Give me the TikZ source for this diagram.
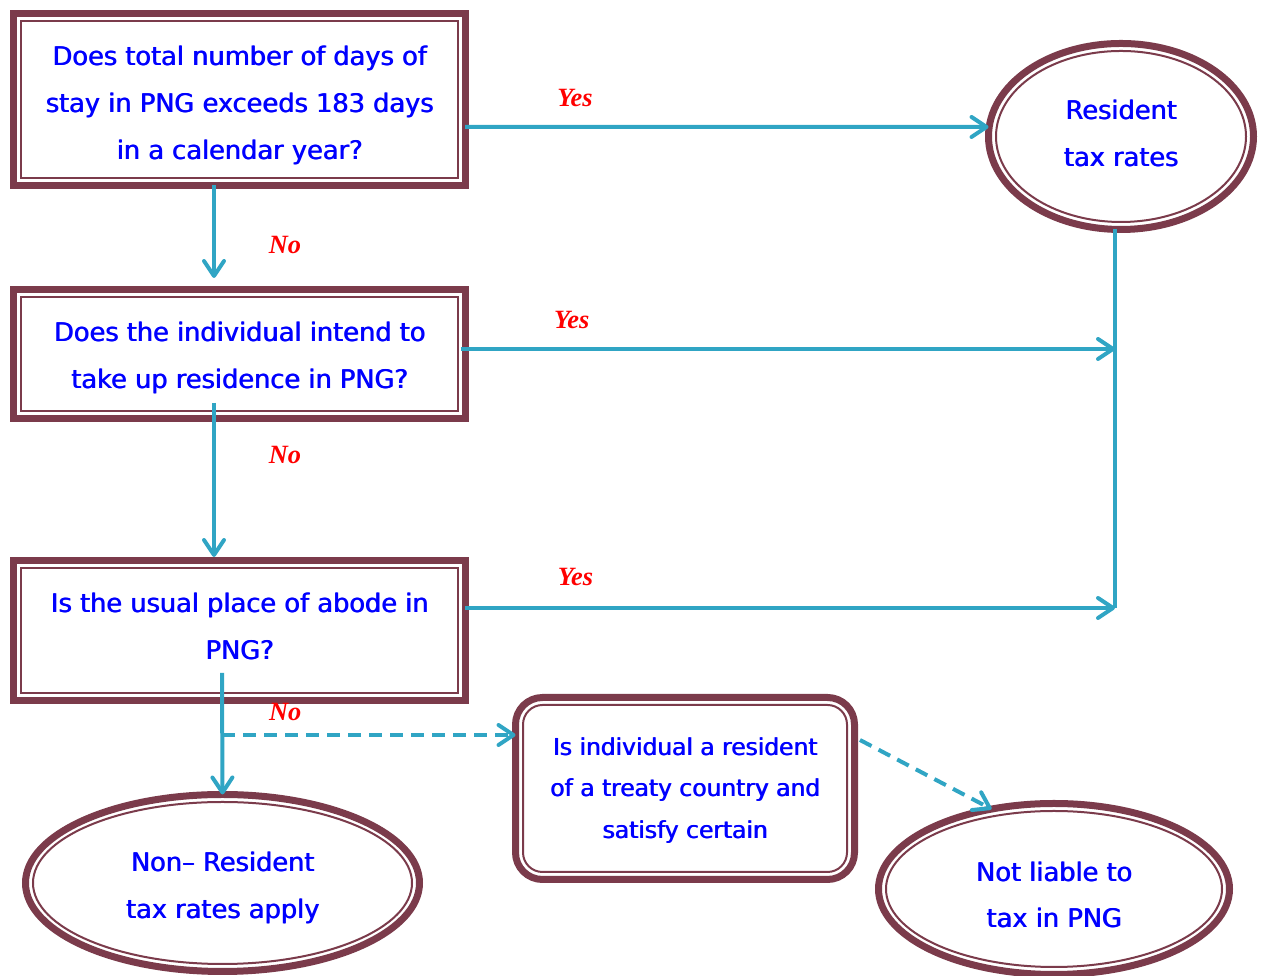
\documentclass[tikz,border=0pt]{standalone}
\usepackage{fontspec}
\setmainfont{DejaVu Sans}
\newfontfamily\notefont{Liberation Serif}
\usetikzlibrary{arrows.meta,calc,shapes.geometric}
\definecolor{framered}{HTML}{7B3B4B}
\definecolor{flowteal}{HTML}{30A5C4}
\definecolor{askblue}{HTML}{0000FF}
% one line of box text, a little heavier, moved by #1 without changing its size
\newcommand\askline[2][0pt]{\raisebox{#1}[\height][\depth]{\rlap{\kern0.45pt#2}#2}}

\begin{document}
\begin{tikzpicture}[x=1cm,y=1cm,
    box/.style={draw=framered, line width=0.14cm, fill=white, outer sep=0pt,
      inner sep=0pt, align=center, text=askblue, font=\fontsize{14.6}{26.6}\selectfont},
    question/.style={box, rectangle, minimum width=9.02cm},
    outcome/.style={box, ellipse},
    inner/.style={draw=framered, line width=0.04cm},
    flow/.style={draw=flowteal, line width=0.08cm, -{Straight Barb[length=0.3cm, width=0.4cm, round]}},
    trunk/.style={draw=flowteal, line width=0.08cm},
    note/.style={text=red, font=\notefont\fontsize{15}{15}\selectfont\bfseries\itshape}]
    % Page is 1267x976 px at 0.02cm per px, origin bottom left.
    \useasboundingbox (0,0) rectangle (25.34,19.52);

    % Questions down the left side
    \node[question, minimum height=3.44cm] (q1) at (4.79,17.53)
      {\askline[-3.4pt]{Does total number of days of}\\\askline[-3.4pt]{stay in PNG exceeds 183 days}\\
       \askline[-3.4pt]{in a calendar year?}};
    \node[question, minimum height=2.58cm] (q2) at (4.79,12.44)
      {\askline[-2.3pt]{Does the individual intend to}\\\askline[-2.3pt]{take up residence in PNG?}};
    \node[question, minimum height=2.80cm] (q3) at (4.79,6.91)
      {\askline[2.3pt]{Is the usual place of abode in}\\\askline[2.3pt]{PNG?}};

    % Outcomes
    \node[outcome, minimum width=5.30cm, minimum height=3.72cm] (res) at (22.42,16.79)
      {\askline[1.7pt]{Resident}\\\askline[1.7pt]{tax rates}};
    \node[outcome, minimum width=7.88cm, minimum height=3.54cm] (nonres) at (4.45,1.86)
      {\askline[-2.8pt]{Non-- Resident}\\\askline[-2.8pt]{tax rates apply}};
    \node[outcome, minimum width=7.02cm, minimum height=3.42cm] (nl) at (21.08,1.74)
      {\askline[-3.4pt]{Not liable to}\\\askline[-3.4pt]{tax in PNG}};
    \node[box, rectangle, rounded corners=0.54cm, minimum width=6.78cm, minimum height=3.64cm,
      font=\fontsize{13.3}{23.8}\selectfont] (tr) at (13.70,3.75)
      {\askline[-1.1pt]{Is individual a resident}\\\askline[-1.1pt]{of a treaty country and}\\
       \askline[-1.1pt]{satisfy certain}};

    % thin inner line of each frame
    \foreach \o in {q1,q2,q3}
      \draw[inner] ([shift={(0.15cm,-0.15cm)}]\o.north west) rectangle ([shift={(-0.15cm,0.15cm)}]\o.south east);
    \draw[inner, rounded corners=0.39cm] ([shift={(0.15cm,-0.15cm)}]tr.north west)
      rectangle ([shift={(-0.15cm,0.15cm)}]tr.south east);
    \foreach \o in {res,nonres,nl}
      \draw[inner] let \p1=($(\o.east)-(\o.center)$), \p2=($(\o.north)-(\o.center)$) in
        (\o.center) ellipse [x radius=\x1-0.15cm, y radius=\y2-0.15cm];

    % Yes branches
    \coordinate (trunktop) at ([xshift=-0.12cm]res.south);
    \coordinate (trunkend) at (22.30,7.36);
    \draw[trunk] (trunktop) -- (trunkend);
    \draw[flow] ([yshift=-0.55cm]q1.east) -- node[note, pos=0.21, yshift=0.58cm] {Yes} ([yshift=0.19cm]res.west);
    \draw[flow] ([xshift=-0.09cm, yshift=0.1cm]q2.east) coordinate (o2) -- node[note, pos=0.17, yshift=0.58cm] {Yes} (o2 -| trunkend);
    \draw[flow] ([yshift=0.45cm]q3.east) coordinate (o3) -- node[note, pos=0.17, yshift=0.62cm] {Yes} (o3 -| trunkend);

    % No branches
    \draw[flow] ([xshift=-0.51cm]q1.south) -- node[note, pos=0.64, xshift=1.42cm] {No} ([xshift=-0.51cm, yshift=0.23cm]q2.north);
    \draw[flow] ([xshift=-0.51cm, yshift=0.31cm]q2.south) -- node[note, pos=0.34, xshift=1.42cm] {No} ([xshift=-0.51cm, yshift=0.07cm]q3.north);
    \draw[flow] ([xshift=-0.35cm, yshift=0.55cm]q3.south) -- node[note, pos=0.32, xshift=1.26cm] {No} (nonres.north);

    % treaty test
    \coordinate (fork) at ([xshift=-0.35cm, yshift=-0.69cm]q3.south);
    \draw[flow, dash pattern=on 0.26cm off 0.16cm] (fork) -- (fork -| tr.west);
    \draw[flow, dash pattern=on 0.26cm off 0.16cm] ([xshift=0.11cm, yshift=0.97cm]tr.east) -- (nl.128);
\end{tikzpicture}
\end{document}
